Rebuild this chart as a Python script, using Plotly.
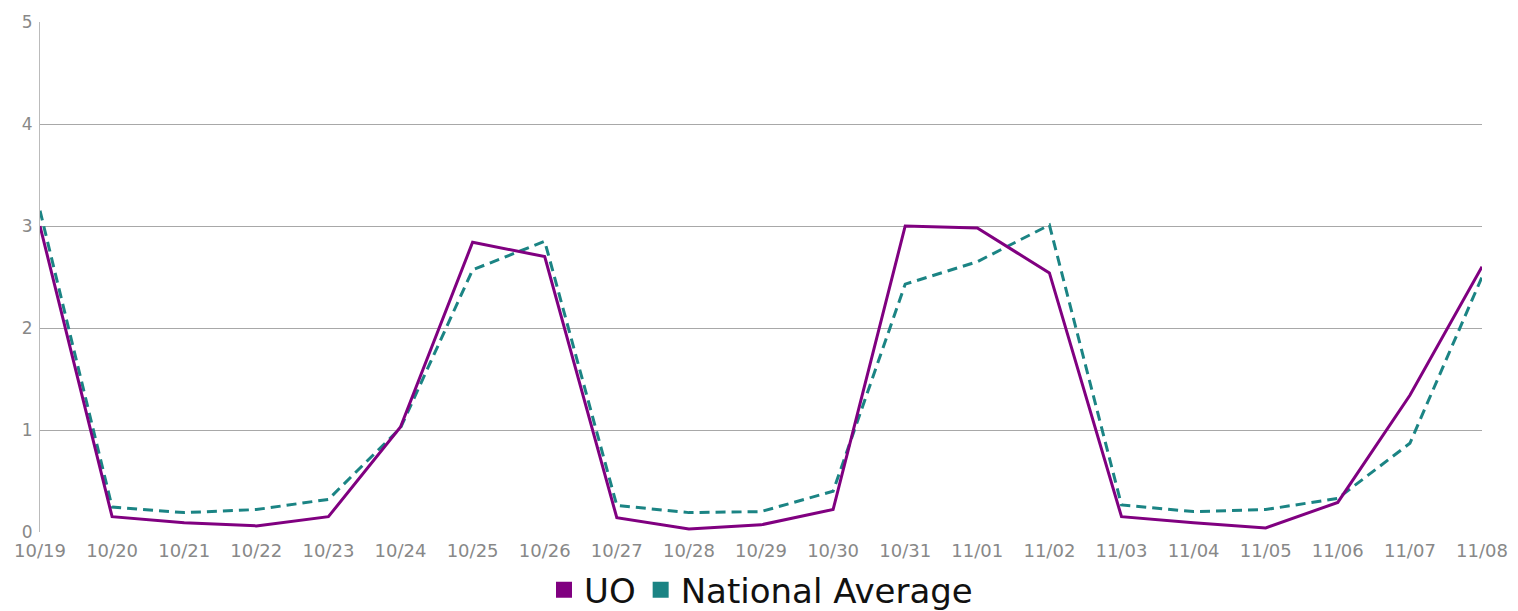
import plotly.graph_objects as go

dates = ["10/19", "10/20", "10/21", "10/22", "10/23", "10/24", "10/25", "10/26", "10/27", "10/28",
         "10/29", "10/30", "10/31", "11/01", "11/02", "11/03", "11/04", "11/05", "11/06", "11/07", "11/08"]
uo = [3.0, 0.15, 0.09, 0.06, 0.15, 1.03, 2.84, 2.70, 0.14, 0.03,
      0.07, 0.22, 3.0, 2.98, 2.54, 0.15, 0.09, 0.04, 0.29, 1.34, 2.6]
national = [3.15, 0.245, 0.19, 0.22, 0.32, 1.02, 2.57, 2.85, 0.26, 0.19,
            0.20, 0.40, 2.43, 2.65, 3.01, 0.265, 0.20, 0.22, 0.33, 0.87, 2.5]
y_ticks = [0, 1, 2, 3, 4, 5]

uo_color = "#800080"
nat_color = "#1b8484"
tick_font = "DejaVu Sans, Arial, sans-serif"

fig = go.Figure()
fig.add_trace(go.Scatter(x=list(range(len(dates))), y=national, mode="lines",
                         line=dict(color=nat_color, width=3, dash="10px,6px"), showlegend=False))
fig.add_trace(go.Scatter(x=list(range(len(dates))), y=uo, mode="lines",
                         line=dict(color=uo_color, width=3), showlegend=False))
fig.add_trace(go.Scatter(x=[None], y=[None], mode="markers", name="UO",
                         marker=dict(symbol="square", color=uo_color, size=22)))
fig.add_trace(go.Scatter(x=[None], y=[None], mode="markers", name="National Average",
                         marker=dict(symbol="square", color=nat_color, size=22)))

fig.update_layout(
    width=1518, height=611,
    margin=dict(l=40, r=36, t=22, b=79, autoexpand=False),
    plot_bgcolor="white", paper_bgcolor="white",
    font=dict(family=tick_font, color="#888888", size=18),
    legend=dict(orientation="h", x=0.5, xanchor="center", xref="paper",
                y=0.034, yanchor="middle", yref="container",
                font=dict(size=34, color="#111111", family=tick_font),
                itemsizing="trace", itemwidth=30, bgcolor="rgba(0,0,0,0)"),
)
fig.update_xaxes(range=[0, len(dates) - 1], tickmode="array",
                 tickvals=list(range(len(dates))), ticktext=dates,
                 showgrid=False, zeroline=False, showline=False, automargin=False,
                 ticks="", ticklabelstandoff=6, tickfont=dict(size=18, color="#888888"))
fig.update_yaxes(range=[0, 5], tickvals=y_ticks, showgrid=True, gridcolor="#a8a8a8",
                 gridwidth=1, zeroline=False, showline=True, linecolor="#bbbbbb",
                 linewidth=1, ticks="", ticklabelstandoff=3, automargin=False,
                 tickfont=dict(size=17, color="#888888"))

fig.write_html("out.html", config={"displayModeBar": False},
               post_script="document.body.style.margin='0';document.body.style.padding='0';")
